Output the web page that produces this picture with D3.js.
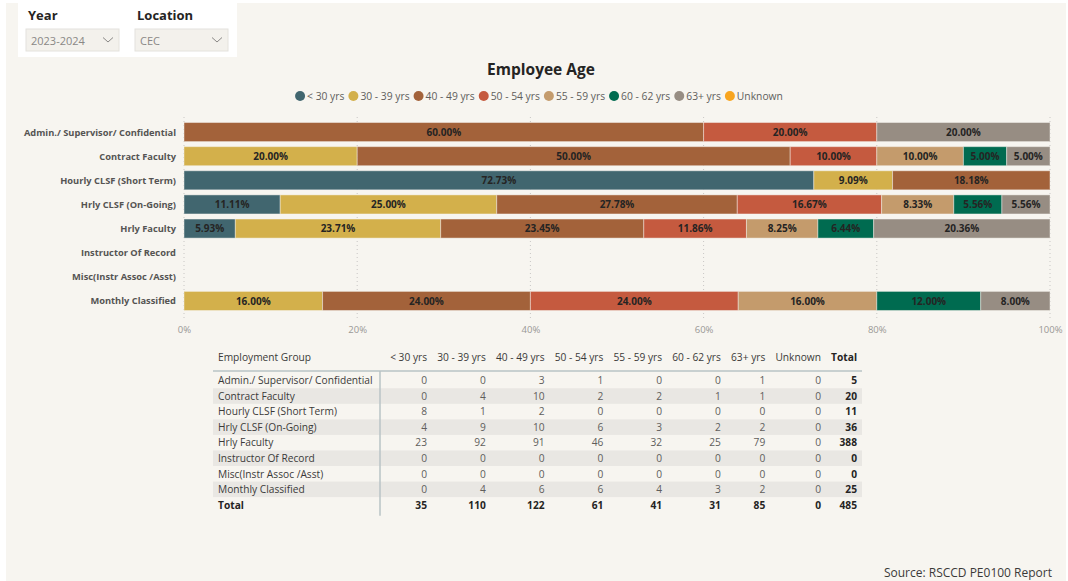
<!DOCTYPE html>
<html>
<head>
<meta charset="utf-8">
<script src="https://cdn.jsdelivr.net/npm/d3@7"></script>
<style>
  html, body { margin: 0; padding: 0; background: #ffffff; }
  svg { display: block; font-family: "Open Sans", "Noto Sans", sans-serif; }
</style>
</head>
<body>
<svg id="chart" width="1068" height="581"></svg>
<script>
// Employment groups (rows) and age bands (stacked series)
const categories = [
  "Admin./ Supervisor/ Confidential",
  "Contract Faculty",
  "Hourly CLSF (Short Term)",
  "Hrly CLSF (On-Going)",
  "Hrly Faculty",
  "Instructor Of Record",
  "Misc(Instr Assoc /Asst)",
  "Monthly Classified"
];
const ageGroups = ["< 30 yrs", "30 - 39 yrs", "40 - 49 yrs", "50 - 54 yrs",
                   "55 - 59 yrs", "60 - 62 yrs", "63+ yrs", "Unknown"];

// Headcount per age band, one value per employment group
const under30  = [0, 0, 8, 4, 23, 0, 0, 0];
const age30to39 = [0, 4, 1, 9, 92, 0, 0, 4];
const age40to49 = [3, 10, 2, 10, 91, 0, 0, 6];
const age50to54 = [1, 2, 0, 6, 46, 0, 0, 6];
const age55to59 = [0, 2, 0, 3, 32, 0, 0, 4];
const age60to62 = [0, 1, 0, 2, 25, 0, 0, 3];
const age63plus = [1, 1, 0, 2, 79, 0, 0, 2];
const unknownAge = [0, 0, 0, 0, 0, 0, 0, 0];

const xTicks = [0, 0.2, 0.4, 0.6, 0.8, 1];
const ageColors = ["#41666f", "#d3b04b", "#a3623a", "#c55a3f",
                   "#c49b6c", "#006b50", "#978d83", "#f8a51f"];

const yearOptions = ["2023-2024"];
const locationOptions = ["CEC"];

const seriesValues = [under30, age30to39, age40to49, age50to54,
                      age55to59, age60to62, age63plus, unknownAge];

// Row records: counts per band plus row total
const rows = categories.map((c, i) => {
  const r = { group: c };
  ageGroups.forEach((g, j) => { r[g] = seriesValues[j][i]; });
  r.total = d3.sum(ageGroups, g => r[g]);
  return r;
});

const svg = d3.select("#chart");
const W = 1068, H = 581;
const textDark = "#252423";

// Page canvas
svg.append("rect").attr("x", 6).attr("y", 3).attr("width", W - 8).attr("height", H - 3)
  .attr("fill", "#f7f5f0");

// ---- Slicers ----
const slicer = svg.append("g");
slicer.append("rect").attr("x", 18).attr("y", 0).attr("width", 219).attr("height", 57)
  .attr("fill", "#ffffff");
const slicers = [
  { title: "Year", value: yearOptions[0], x: 26 },
  { title: "Location", value: locationOptions[0], x: 135 }
];
slicers.forEach(s => {
  const g = slicer.append("g").attr("transform", `translate(${s.x},0)`);
  g.append("text").attr("x", 2).attr("y", 20).text(s.title)
    .attr("font-size", 13).attr("font-weight", 700).attr("fill", textDark);
  g.append("rect").attr("x", 0).attr("y", 29).attr("width", 93).attr("height", 22)
    .attr("fill", "#f3f1ec").attr("stroke", "#e4e2dd");
  g.append("text").attr("x", 5).attr("y", 44.5).text(s.value)
    .attr("font-size", 11).attr("fill", "#8a8886");
  g.append("path").attr("d", "M77,37.5 L82,42 L87,37.5")
    .attr("fill", "none").attr("stroke", "#8a8886").attr("stroke-width", 1);
});

// ---- Title & legend ----
svg.append("text").attr("x", 541).attr("y", 75).attr("text-anchor", "middle")
  .attr("font-size", 15.5).attr("font-weight", 700).attr("fill", textDark)
  .text("Employee Age");

const legend = svg.append("g");
let lx = 0;
ageGroups.forEach((g, i) => {
  const item = legend.append("g").attr("transform", `translate(${lx},0)`);
  item.append("circle").attr("cx", 5).attr("cy", 0).attr("r", 5).attr("fill", ageColors[i]);
  const t = item.append("text").attr("x", 12).attr("y", 3.8).text(g)
    .attr("font-size", 10.3).attr("fill", "#605e5c");
  lx += 12 + t.node().getComputedTextLength() + 4;
});
const legendW = lx - 4;
legend.attr("transform", `translate(${539 - legendW / 2},96)`);

// ---- Stacked 100% bar chart ----
const x = d3.scaleLinear().domain([0, 1]).range([184, 1050]);
const y = d3.scaleBand().domain(categories).range([120, 313])
  .paddingInner(0.21).paddingOuter(0.105);

// Dotted vertical gridlines
svg.append("g").selectAll("line").data(xTicks).join("line")
  .attr("x1", d => x(d)).attr("x2", d => x(d))
  .attr("y1", 117).attr("y2", 320)
  .attr("stroke", "#c8c6c4").attr("stroke-width", 1).attr("stroke-dasharray", "1,3");

// X axis labels
const xAxis = d3.axisBottom(x).tickValues(xTicks).tickFormat(d3.format(".0%")).tickSize(0).tickPadding(0);
const xg = svg.append("g").attr("transform", "translate(0,326)").call(xAxis);
xg.select(".domain").remove();
xg.selectAll("text").attr("font-size", 9.5).attr("fill", "#9a9896")
  .attr("font-family", "'Open Sans', sans-serif");

// Stack as shares of each row total
const stack = d3.stack().keys(ageGroups)
  .value((d, key) => d.total ? d[key] / d.total : 0);
const stacked = stack(rows);

const layers = svg.append("g").selectAll("g").data(stacked).join("g")
  .attr("fill", (d, i) => ageColors[i]);
layers.selectAll("rect").data(d => d.filter(s => s[1] - s[0] > 0)).join("rect")
  .attr("x", d => x(d[0]))
  .attr("y", d => y(d.data.group))
  .attr("width", d => x(d[1]) - x(d[0]))
  .attr("height", y.bandwidth())
  .attr("stroke", "#f7f5f0").attr("stroke-opacity", 0.45).attr("stroke-width", 1);

const pct = d3.format(".2%");
layers.selectAll("text").data(d => d.filter(s => s[1] - s[0] > 0)).join("text")
  .attr("x", d => (x(d[0]) + x(d[1])) / 2)
  .attr("y", d => y(d.data.group) + y.bandwidth() / 2 + 3.6)
  .attr("text-anchor", "middle")
  .attr("font-size", 10).attr("font-weight", 700).attr("fill", textDark)
  .text(d => pct(d[1] - d[0]));

// Category labels
svg.append("g").selectAll("text").data(categories).join("text")
  .attr("x", 176).attr("y", d => y(d) + y.bandwidth() / 2 + 3.5)
  .attr("text-anchor", "end").attr("font-size", 9.3).attr("font-weight", 700)
  .attr("fill", "#555453").text(d => d);

// ---- Matrix table ----
const table = svg.append("g");
const tLeft = 213, tRight = 862, firstColRight = 380, lastValueRight = 857;
const headerY = 361, lineY = 371, rowH = 15.55, firstRowMid = 380.5;
const fs = 10.2;

const headers = ageGroups.concat(["Total"]);
// Measure header widths, then spread remaining space evenly between columns
const probe = table.append("g");
const widths = headers.map(h => {
  const t = probe.append("text").attr("font-size", fs)
    .attr("font-weight", h === "Total" ? 700 : 400).text(h);
  return t.node().getComputedTextLength();
});
probe.remove();
const gap = (lastValueRight - firstColRight - d3.sum(widths)) / headers.length;
const colRight = [];
let cx = firstColRight;
widths.forEach(w => { cx += gap + w; colRight.push(cx); });
const colX = d3.scaleOrdinal().domain(headers).range(colRight);

const rowY = d3.scaleBand().domain(d3.range(rows.length + 1))
  .range([firstRowMid - rowH / 2, firstRowMid - rowH / 2 + rowH * (rows.length + 1)]);

// Banded row shading
table.selectAll("rect.band").data(d3.range(rows.length).filter(i => i % 2 === 1)).join("rect")
  .attr("class", "band")
  .attr("x", tLeft).attr("width", tRight - tLeft)
  .attr("y", i => rowY(i)).attr("height", rowY.bandwidth())
  .attr("fill", "#e9e7e3");

// Header row
table.append("text").attr("x", 218).attr("y", headerY).text("Employment Group")
  .attr("font-size", fs).attr("fill", "#3b3a39");
table.selectAll("text.h").data(headers).join("text").attr("class", "h")
  .attr("x", h => colX(h)).attr("y", headerY).attr("text-anchor", "end")
  .attr("font-size", fs).attr("font-weight", h => h === "Total" ? 700 : 400)
  .attr("fill", h => h === "Total" ? textDark : "#3b3a39").text(h => h);

table.append("line").attr("x1", tLeft).attr("x2", tRight).attr("y1", lineY).attr("y2", lineY)
  .attr("stroke", "#b9c3c6").attr("stroke-width", 1.5);
table.append("line").attr("x1", firstColRight).attr("x2", firstColRight)
  .attr("y1", lineY).attr("y2", rowY(rows.length) + rowH + 3)
  .attr("stroke", "#b9c3c6").attr("stroke-width", 1.5);

// Body rows
const bodyRows = table.selectAll("g.row").data(rows).join("g").attr("class", "row")
  .attr("transform", (d, i) => `translate(0,${rowY(i) + rowH / 2 + 3.7})`);
bodyRows.append("text").attr("x", 218).text(d => d.group)
  .attr("font-size", fs).attr("fill", "#3b3a39");
bodyRows.selectAll("text.v").data(d => headers.map(h => ({ h, v: h === "Total" ? d.total : d[h] })))
  .join("text").attr("class", "v")
  .attr("x", d => colX(d.h)).attr("text-anchor", "end")
  .attr("font-size", fs).attr("font-weight", d => d.h === "Total" ? 700 : 400)
  .attr("fill", d => d.h === "Total" ? textDark : "#605e5c").text(d => d.v);

// Totals row
const totals = headers.map(h => ({ h, v: h === "Total" ? d3.sum(rows, r => r.total) : d3.sum(rows, r => r[h]) }));
const totalRow = table.append("g")
  .attr("transform", `translate(0,${rowY(rows.length) + rowH / 2 + 3.7})`);
totalRow.append("text").attr("x", 218).text("Total")
  .attr("font-size", fs).attr("font-weight", 700).attr("fill", textDark);
totalRow.selectAll("text.v").data(totals).join("text").attr("class", "v")
  .attr("x", d => colX(d.h)).attr("text-anchor", "end")
  .attr("font-size", fs).attr("font-weight", 700).attr("fill", textDark).text(d => d.v);

// Source note
svg.append("text").attr("x", 1052).attr("y", 577).attr("text-anchor", "end")
  .attr("font-size", 12).attr("fill", "#3b3a39").text("Source: RSCCD PE0100 Report");
</script>
</body>
</html>
